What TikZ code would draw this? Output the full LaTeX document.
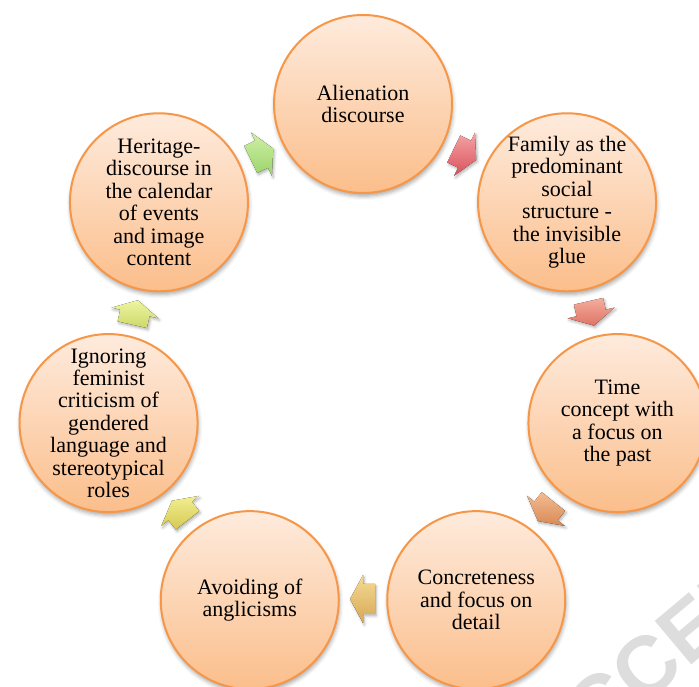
\documentclass[tikz,border=0pt]{standalone}
\usepackage{fontspec}
\setmainfont{Liberation Serif}
\newfontfamily\wmfont{Liberation Sans}
\usetikzlibrary{calc,shadows.blur}
\definecolor{ringorange}{HTML}{F79646}
\definecolor{circtop}{HTML}{FEEBDD}
\definecolor{circbot}{HTML}{FBBE8B}
\definecolor{aat}{HTML}{F4A3A6}\definecolor{aab}{HTML}{D9535A}
\definecolor{abt}{HTML}{F4AE9E}\definecolor{abb}{HTML}{DE7466}
\definecolor{act}{HTML}{F3BB92}\definecolor{acb}{HTML}{D88A54}
\definecolor{adt}{HTML}{F5DA95}\definecolor{adb}{HTML}{D6A955}
\definecolor{aet}{HTML}{F2EE92}\definecolor{aeb}{HTML}{D4C951}
\definecolor{aft}{HTML}{EEF5A0}\definecolor{afb}{HTML}{CCD96A}
\definecolor{agt}{HTML}{D0EFA6}\definecolor{agb}{HTML}{9BD46A}
\definecolor{wmgray}{HTML}{DDDDDD}
\tikzset{
  bubble/.style={circle, draw=ringorange, line width=1.5pt, minimum size=133.5pt,
    inner sep=0pt, top color=circtop, bottom color=circbot,
    blur shadow={shadow xshift=0.6pt, shadow yshift=-2.4pt, shadow blur radius=3pt, shadow opacity=35}},
  btext/.style={align=center, inner sep=0pt, text=black, font=\fontsize{16.5}{16.8}\selectfont},
  arrowshadow/.style={blur shadow={shadow xshift=1pt, shadow yshift=-1.5pt, shadow blur radius=2pt, shadow opacity=30}},
}
\begin{document}
\begin{tikzpicture}[x=0.75pt,y=0.75pt]
\useasboundingbox (0,0) rectangle (699,686);
\coordinate (C) at (363,321);
% circles
\node[bubble] (c1) at ($(C)+(90:261)$) {};
\node[bubble] (c2) at ($(C)+(38.571:261)$) {};
\node[bubble] (c3) at ($(C)+(-12.857:261)$) {};
\node[bubble] (c4) at ($(C)+(-64.286:261)$) {};
\node[bubble] (c5) at ($(C)+(-115.714:261)$) {};
\node[bubble] (c6) at ($(C)+(-167.143:261)$) {};
\node[bubble] (c7) at ($(C)+(141.429:261)$) {};
% texts
\node[btext] (t1) at (c1) {Alienation\\discourse};
\node[btext] (t2) at (c2) {Family as the\\predominant\\social\\structure -\\the invisible\\glue};
\node[btext] (t3) at (c3) {Time\\concept with\\a focus on\\the past};
\node[btext] (t4) at (c4) {Concreteness\\and focus on\\detail};
\node[btext] (t5) at (c5) {Avoiding of\\anglicisms};
\node[btext] (t6) at (c6) {Ignoring\\feminist\\criticism of\\gendered\\language and\\stereotypical\\roles};
\node[btext] (t7) at (c7) {Heritage-\\discourse in\\the calendar\\of events\\and image\\content};
% arrows
\foreach \i/\cn in {0/aa,1/ab,2/ac,3/ad,4/ae,5/af,6/ag}{
  \pgfmathsetmacro\ang{90-51.4286*(\i+0.5)}
  \pgfmathsetmacro\rot{\ang-90}
  \coordinate (ar\i) at ($(C)+(\ang:234)$);
  \fill[top color=\cn t, bottom color=\cn b, arrowshadow]
    ($(ar\i)+({\rot-128.66}:19.21)$) -- ($(ar\i)+({\rot-90}:15)$) -- ($(ar\i)+({\rot-90}:24)$)
    -- ($(ar\i)+({\rot}:13)$) -- ($(ar\i)+({\rot+90}:24)$) -- ($(ar\i)+({\rot+90}:15)$)
    -- ($(ar\i)+({\rot+128.66}:19.21)$) -- cycle;
}
% watermark
\node[rotate=40, anchor=base west, inner sep=0pt, text=wmgray, font=\wmfont\bfseries\fontsize{62}{62}\selectfont] (wm) at (550,-98) {ACCEPTED};
\end{tikzpicture}
\end{document}
